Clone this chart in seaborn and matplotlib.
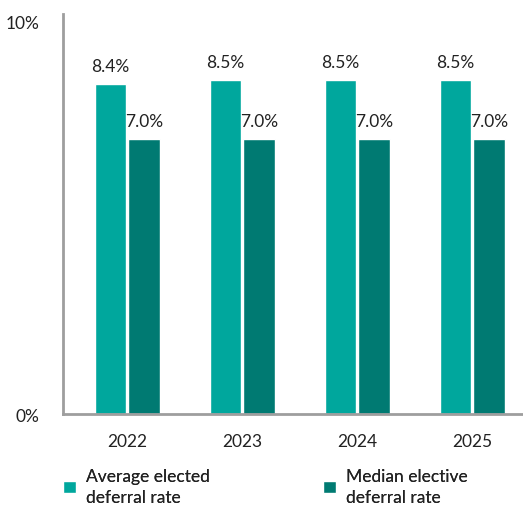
import matplotlib
matplotlib.use("Agg")
import matplotlib.pyplot as plt
import seaborn as sns
import pandas as pd
from matplotlib.patches import Patch

years = ["2022", "2023", "2024", "2025"]
average_elected = [8.4, 8.5, 8.5, 8.5]
median_elective = [7.0, 7.0, 7.0, 7.0]
series_names = ["Average elected\ndeferral rate", "Median elective\ndeferral rate"]
y_ticks = [0, 10]
y_tick_labels = ["0%", "10%"]

colors = ["#00a79d", "#007a72"]

df = pd.DataFrame({
    "year": years * 2,
    "value": average_elected + median_elective,
    "series": [series_names[0]] * 4 + [series_names[1]] * 4,
})

sns.set_theme(style="white")
plt.rcParams["font.family"] = ["Lato", "DejaVu Sans"]

FS = 12.5
TXT = "#222222"

fig = plt.figure(figsize=(5.23, 5.06), dpi=100)
ax = fig.add_axes([63 / 523, 1 - 415 / 506, 1 - 63 / 523, (415 - 15) / 506])

sns.barplot(data=df, x="year", y="value", hue="series", palette=colors,
            width=0.58, gap=0.05, ax=ax, legend=False, saturation=1)

for c in ax.containers:
    ax.bar_label(c, labels=[f"{v:.1f}%" for v in c.datavalues], padding=7,
                 fontsize=FS, color=TXT)

ax.set_ylim(0, 10.18)
ax.set_xlim(-0.557, 3.443)
ax.set_yticks(y_ticks)
ax.set_yticklabels(y_tick_labels, fontsize=FS, color=TXT)
ax.tick_params(axis="y", length=0, pad=17)
ax.tick_params(axis="x", length=0, pad=14, labelsize=FS, labelcolor=TXT)
ax.set_xlabel("")
ax.set_ylabel("")
for s in ["top", "right"]:
    ax.spines[s].set_visible(False)
for s in ["left", "bottom"]:
    ax.spines[s].set_color("#9e9e9e")
    ax.spines[s].set_linewidth(2)

for i, xpos in enumerate([63, 323]):
    leg = fig.legend([Patch(facecolor=colors[i])], [series_names[i]], loc="upper left",
                     bbox_to_anchor=(xpos / 523, 1 - 469 / 506),
                     frameon=False, fontsize=FS, handlelength=0.75, handleheight=0.75,
                     handletextpad=0.55, labelcolor=TXT, borderaxespad=0, borderpad=0)
    for t in leg.get_texts():
        t.set_linespacing(1.4)
    fig.add_artist(leg)

fig.savefig("out.png", dpi=100)
